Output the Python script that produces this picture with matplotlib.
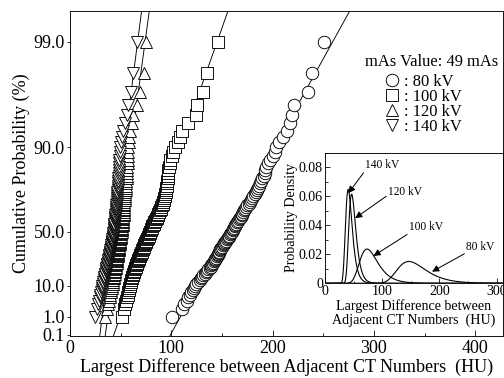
import numpy as np
import matplotlib
matplotlib.use('Agg')
import matplotlib.pyplot as plt
from matplotlib.lines import Line2D
from matplotlib.ticker import MultipleLocator, NullLocator

plt.rcParams['font.family'] = 'Liberation Serif'

# sorted largest differences between adjacent CT numbers (HU), 99 samples each
hu_80kv = [100.4, 110.6, 112.6, 115.3, 116.5, 118.5, 119.8, 121.0, 122.3, 123.5,
           124.8, 126.5, 128.0, 129.0, 130.5, 131.5, 132.8, 134.0, 135.2, 136.5,
           138.0, 138.8, 139.6, 140.5, 141.2, 142.0, 142.8, 143.5, 144.2, 145.0,
           145.6, 146.2, 146.8, 147.3, 147.8, 148.3, 148.8, 149.8, 150.8, 151.7,
           152.5, 153.4, 154.2, 155.0, 155.8, 156.5, 157.2, 158.0, 158.8, 159.6,
           160.4, 161.2, 162.0, 162.6, 163.3, 164.0, 164.8, 165.8, 166.8, 167.7,
           168.5, 169.4, 170.2, 171.0, 171.8, 172.8, 174.0, 175.0, 176.3, 177.5,
           178.7, 179.8, 181.0, 182.2, 183.3, 184.4, 185.5, 186.5, 187.6, 188.8,
           190.0, 191.2, 192.5, 192.8, 193.5, 195.5, 197.4, 200.0, 202.0, 203.7,
           206.7, 210.6, 213.9, 217.5, 218.8, 221.4, 235.3, 238.5, 250.7]
hu_100kv = [51.5, 53.0, 54.5, 55.3, 56.0, 56.8, 57.4, 58.0, 58.5, 59.0,
            59.5, 60.0, 60.5, 61.0, 61.5, 62.0, 62.5, 63.0, 63.5, 64.0,
            64.5, 65.0, 65.5, 66.0, 66.5, 67.0, 67.5, 68.0, 68.5, 69.0,
            69.5, 70.0, 70.5, 71.0, 71.5, 72.0, 72.5, 73.0, 73.5, 74.0,
            74.5, 75.0, 75.5, 76.0, 76.5, 77.0, 77.5, 78.0, 78.5, 79.0,
            79.6, 80.2, 80.8, 81.4, 82.0, 82.6, 83.2, 83.8, 84.6, 85.4,
            86.0, 86.6, 87.3, 88.1, 88.9, 89.6, 90.3, 90.9, 91.5, 92.0,
            92.5, 93.0, 93.5, 94.0, 94.5, 94.8, 95.1, 95.4, 95.7, 96.0,
            96.3, 96.6, 96.9, 97.2, 97.5, 98.3, 99.2, 100.2, 101.8, 103.7,
            106.9, 108.6, 110.2, 116.8, 124.4, 125.7, 131.6, 134.9, 146.4]
hu_120kv = [34.6, 36.2, 37.3, 38.2, 39.0, 39.6, 40.2, 40.7, 41.2, 41.6,
            42.0, 42.4, 42.8, 43.1, 43.4, 43.7, 44.0, 44.3, 44.6, 44.9,
            45.1, 45.3, 45.5, 45.7, 45.9, 46.1, 46.3, 46.5, 46.7, 46.9,
            47.1, 47.3, 47.5, 47.7, 47.9, 48.1, 48.3, 48.5, 48.7, 48.9,
            49.1, 49.3, 49.5, 49.7, 49.9, 50.1, 50.3, 50.5, 50.7, 50.9,
            51.1, 51.3, 51.5, 51.7, 51.9, 52.1, 52.3, 52.5, 52.6, 52.7,
            52.8, 52.9, 53.0, 53.1, 53.2, 53.3, 53.4, 53.5, 53.6, 53.7,
            53.9, 54.1, 54.3, 54.5, 54.7, 54.9, 55.1, 55.3, 55.5, 55.7,
            55.9, 56.1, 56.3, 56.5, 56.7, 56.9, 57.1, 57.3, 57.5, 57.7,
            57.9, 58.5, 59.2, 61.5, 62.5, 65.8, 69.1, 73.0, 75.0]
hu_140kv = [24.7, 26.3, 27.5, 28.5, 29.3, 30.0, 30.6, 31.1, 31.6, 32.0,
            32.4, 32.8, 33.2, 33.6, 34.0, 34.4, 34.8, 35.1, 35.4, 35.7,
            36.0, 36.3, 36.6, 36.9, 37.2, 37.5, 37.8, 38.1, 38.4, 38.6,
            38.8, 39.0, 39.2, 39.5, 39.8, 40.1, 40.4, 40.6, 40.8, 41.0,
            41.2, 41.4, 41.6, 41.8, 42.0, 42.2, 42.4, 42.6, 42.8, 43.0,
            43.2, 43.3, 43.5, 43.6, 43.8, 43.9, 44.1, 44.2, 44.4, 44.6,
            44.7, 44.9, 45.0, 45.2, 45.3, 45.5, 45.6, 45.7, 45.9, 46.0,
            46.2, 46.3, 46.5, 46.6, 46.8, 46.9, 47.1, 47.3, 47.4, 47.6,
            47.8, 47.9, 48.1, 48.2, 48.4, 48.6, 48.8, 49.0, 49.2, 49.4,
            50.3, 51.3, 52.4, 53.8, 55.9, 57.5, 60.2, 62.5, 65.8]

kv_labels = ['80 kV', '100 kV', '120 kV', '140 kV']
series = [hu_80kv, hu_100kv, hu_120kv, hu_140kv]
markers = ['o', 's', '^', 'v']

# Gumbel (largest extreme value) fit: location, scale in HU
gumbel_loc = [146.5, 73.4, 46.5, 40.5]
gumbel_scale = [24.5, 15.6, 6.0, 5.7]

prob_ticks = [0.1, 1.0, 10.0, 50.0, 90.0, 99.0]
prob_labels = ['0.1', '1.0', '10.0', '50.0', '90.0', '99.0']


def gumbel_fwd(p):
    p = np.clip(np.asarray(p, dtype=float) / 100.0, 1e-9, 1 - 1e-9)
    return -np.log(-np.log(p))


def gumbel_inv(z):
    return 100.0 * np.exp(-np.exp(-np.asarray(z, dtype=float)))


z_bot, z_top = -1.96, 5.29

fig = plt.figure(figsize=(7, 5.25), dpi=72)
ax = fig.add_axes([70 / 504, 1 - 336 / 378, 433 / 504, 325 / 378])
ax.set_yscale('function', functions=(gumbel_fwd, gumbel_inv))

for vals, m, loc, sc in zip(series, markers, gumbel_loc, gumbel_scale):
    vals = np.asarray(vals)
    n = len(vals)
    cum = 100.0 * np.arange(1, n + 1) / (n + 1)
    ax.plot(vals, cum, ls='none', marker=m, ms=12.5, mfc='white', mec='black',
            mew=0.9, zorder=3)
    zz = np.array([z_bot, z_top])
    ax.plot(loc + sc * zz, gumbel_inv(zz), color='black', lw=0.9, zorder=2)

ax.set_xlim(0, 427.4)
ax.set_ylim(gumbel_inv(z_bot), gumbel_inv(z_top))
ax.set_yticks(prob_ticks)
ax.set_yticklabels(prob_labels)
ax.yaxis.set_minor_locator(NullLocator())
ax.xaxis.set_major_locator(MultipleLocator(100))
ax.xaxis.set_minor_locator(MultipleLocator(50))
ax.tick_params(axis='x', which='major', direction='in', length=6, width=0.8,
               labelsize=18, pad=4)
ax.tick_params(axis='x', which='minor', direction='in', length=3, width=0.8)
ax.tick_params(axis='y', direction='out', length=3.5, width=0.8,
               labelsize=18, pad=1.5)
ax.set_xlabel('Largest Difference between Adjacent CT Numbers  (HU)',
              fontsize=18, labelpad=1)
ax.set_ylabel('Cumulative Probability (%)', fontsize=18, labelpad=4)
for s in ax.spines.values():
    s.set_linewidth(0.9)

# legend: title as text, entries as a legend below it
ax.text(0.835, 0.843, 'mAs Value: 49 mAs', transform=ax.transAxes,
        fontsize=16.5, ha='center', va='center')
handles = [Line2D([], [], ls='none', marker=m, ms=12.5, mfc='white',
                  mec='black', mew=0.9) for m in markers]
ax.legend(handles, [': ' + k for k in kv_labels], loc='upper left',
          bbox_to_anchor=(0.7265, 0.806), frameon=False,
          prop={'size': 16.5}, labelspacing=-0.06, handlelength=0.9,
          handletextpad=0.3, borderpad=0, borderaxespad=0)

# inset: fitted probability density
ins = fig.add_axes([325 / 504, 1 - 283.3 / 378, 178 / 504, 130.8 / 378])
xg = np.linspace(0, 320, 600)
for loc, sc in zip(gumbel_loc, gumbel_scale):
    z = (xg - loc) / sc
    ins.plot(xg, np.exp(-(z + np.exp(-z))) / sc, color='black', lw=1.1)
ins.set_xlim(0, 311)
ins.set_ylim(0, 0.09)
ins.set_xticks([0, 100, 200, 300])
ins.set_yticks([0, 0.02, 0.04, 0.06, 0.08])
ins.set_yticklabels(['0', '0.02', '0.04', '0.06', '0.08'])
ins.xaxis.set_minor_locator(MultipleLocator(50))
ins.yaxis.set_minor_locator(MultipleLocator(0.01))
ins.tick_params(which='major', direction='in', length=5, width=0.8,
                labelsize=14, pad=2)
ins.tick_params(which='minor', direction='in', length=2.5, width=0.8)
ins.set_xlabel('Largest Difference between\nAdjacent CT Numbers  (HU)',
               fontsize=14, labelpad=1, linespacing=1.05)
ins.set_ylabel('Probability Density', fontsize=14, labelpad=1)
for s in ins.spines.values():
    s.set_linewidth(0.9)

arrow = dict(arrowstyle='-|>', color='black', lw=1.0, mutation_scale=14,
             shrinkA=0, shrinkB=0)
ins.annotate('140 kV', xy=(40.9, 0.062), xytext=(70, 0.0816),
             fontsize=11.5, ha='left', va='center',
             arrowprops=dict(arrow, relpos=(0, 0)))
ins.annotate('120 kV', xy=(52.6, 0.0448), xytext=(110.5, 0.0625),
             fontsize=11.5, ha='left', va='center',
             arrowprops=dict(arrow, relpos=(0, 0.3)))
ins.annotate('100 kV', xy=(84.7, 0.0188), xytext=(147, 0.0386),
             fontsize=11.5, ha='left', va='center',
             arrowprops=dict(arrow, relpos=(0, 0)))
ins.annotate('80 kV', xy=(187, 0.008), xytext=(247, 0.0252),
             fontsize=11.5, ha='left', va='center',
             arrowprops=dict(arrow, relpos=(0, 0)))

fig.savefig('out.png', dpi=72)
